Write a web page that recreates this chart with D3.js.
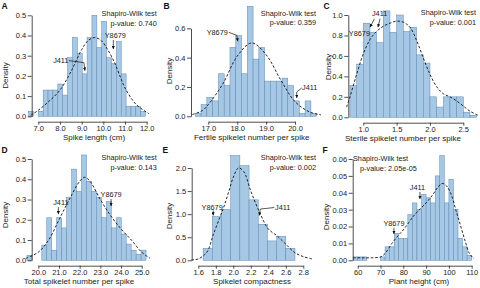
<!DOCTYPE html>
<html>
<head>
<meta charset="utf-8">
<script src="https://cdn.jsdelivr.net/npm/d3@7"></script>
<style>
  body { margin: 0; background: #fff; }
  svg { display: block; font-family: "Liberation Sans", Arial, sans-serif; }
</style>
</head>
<body>
<svg id="fig" width="480" height="288"></svg>
<script>
// ---- values ----
const letters = ["A", "B", "C", "D", "E", "F"];
const xTitles = ["Spike length (cm)", "Fertile spikelet number per spike", "Sterile spikelet number per spike",
                 "Total spikelet number per spike", "Spikelet compactness", "Plant height (cm)"];
const pValues = ["0.740", "0.359", "0.001", "0.143", "0.002", "2.05e-05"];

// histogram bins: first break and bin width, then densities
const binStart = [6.55, 16.55, 0.8, 19.45, 1.655, 58];
const binWidth = [0.225, 0.2, 0.1, 0.24, 0.105, 2];

const densA = [0.025, 0, 0.025, 0.13, 0.13, 0.13, 0.16, 0.105, 0.29, 0.39, 0.31, 0.21,
               0.39, 0.5, 0.34, 0.47, 0.29, 0.26, 0.37, 0.21, 0.05, 0.05, 0.05, 0.025];
const densB = [0.02, 0.08, 0.13, 0.105, 0.29, 0.21, 0.47, 0.55, 0.29, 0.75, 0.39, 0.47,
               0.24, 0.24, 0.24, 0.26, 0.21, 0.105, 0.02, 0.105, 0.02];
const densC = [0.31, 0.52, 0.92, 0.83, 0.73, 1.04, 0.83, 1.0, 0.84, 0.88, 0.61, 0.53,
               0.2, 0.1, 0.2, 0.2, 0.2, 0.05, 0.02];
const densD = [0.025, 0, 0, 0.075, 0.21, 0.05, 0.21, 0.16, 0.31, 0.45, 0.34, 0.52,
               0.39, 0.34, 0.31, 0.21, 0.29, 0.16, 0.21, 0.13, 0.08, 0.05, 0.03, 0.05];
const densE = [0.26, 0.95, 1.1, 2.27, 2.05, 1.31, 0.78, 0.42, 0.52, 0.26];
const densF = [0.002, 0.002, 0.002, 0, 0, 0, 0.002, 0.008, 0.008, 0.016, 0.013, 0.013, 0.027,
               0.034, 0.03, 0.039, 0.037, 0.034, 0.05, 0.062, 0.034, 0.048, 0.03, 0.013, 0.008, 0.003];

// dashed density curves [x, density]
const curveA = [[6.65, 0.005], [7.0, 0.03], [7.5, 0.075], [8.0, 0.13], [8.5, 0.22], [9.0, 0.33],
                [9.3, 0.375], [9.6, 0.39], [9.9, 0.375], [10.2, 0.33], [10.5, 0.27], [10.8, 0.19],
                [11.0, 0.14], [11.5, 0.06], [12.0, 0.02], [12.1, 0.013]];
const curveB = [[16.45, 0.012], [16.8, 0.04], [17.0, 0.08], [17.5, 0.22], [18.0, 0.41], [18.5, 0.5],
                [19.0, 0.42], [19.5, 0.25], [20.0, 0.1], [20.5, 0.03], [20.9, 0.01]];
const curveC = [[0.75, 0.1], [0.8, 0.2], [0.9, 0.42], [1.0, 0.62], [1.1, 0.76], [1.2, 0.84], [1.3, 0.89],
                [1.4, 0.92], [1.5, 0.94], [1.6, 0.93], [1.7, 0.88], [1.8, 0.75], [1.9, 0.58], [2.0, 0.42],
                [2.1, 0.3], [2.2, 0.23], [2.3, 0.2], [2.4, 0.16], [2.5, 0.11], [2.6, 0.06], [2.72, 0.02]];
const curveD = [[19.4, 0.01], [20.0, 0.04], [20.5, 0.1], [21.0, 0.2], [21.5, 0.3], [22.0, 0.39],
                [22.25, 0.41], [22.5, 0.39], [23.0, 0.3], [23.5, 0.22], [24.0, 0.155], [24.5, 0.1],
                [25.0, 0.04], [25.4, 0.01]];
const curveE = [[1.52, 0.01], [1.6, 0.03], [1.7, 0.18], [1.77, 0.55], [1.85, 0.95], [1.9, 1.2],
                [1.95, 1.5], [2.0, 1.8], [2.06, 2.0], [2.12, 1.92], [2.2, 1.5], [2.3, 1.04],
                [2.4, 0.68], [2.5, 0.53], [2.6, 0.35], [2.7, 0.17], [2.8, 0.08], [2.9, 0.03]];
const curveF = [[58, 0.0015], [62, 0.0015], [66, 0.0015], [70, 0.002], [72, 0.004], [75, 0.01],
                [78, 0.015], [80, 0.018], [85, 0.027], [90, 0.034], [93, 0.039], [95, 0.043],
                [97, 0.0455], [99, 0.044], [101, 0.039], [103, 0.03], [105, 0.021], [107, 0.012],
                [109, 0.004], [111, 0.001]];

const xTicksA = [7, 8, 9, 10, 11, 12];
const xTicksB = [17, 18, 19, 20];
const xTicksC = [1.0, 1.5, 2.0, 2.5];
const xTicksD = [20, 21, 22, 23, 24, 25];
const xTicksE = [1.6, 1.8, 2.0, 2.2, 2.4, 2.6, 2.8];
const xTicksF = [60, 70, 80, 90, 100, 110];
const yTicksA = [0, 0.1, 0.2, 0.3, 0.4, 0.5];
const yTicksB = [0, 0.2, 0.4, 0.6];
const yTicksC = [0, 0.2, 0.4, 0.6, 0.8, 1.0];
const yTicksD = [0, 0.1, 0.2, 0.3, 0.4, 0.5];
const yTicksE = [0, 0.5, 1.0, 1.5, 2.0];
const yTicksF = [0, 0.01, 0.02, 0.03, 0.04, 0.05, 0.06];

// ---- layout (pixels) ----
const panels = [
  {dens: densA, curve: curveA, xt: xTicksA, yt: yTicksA, xf: 1, yf: 1,
   x0: 38.3, x1: 146.7, y0: 116.3, y1: 15.3, yAxisX: 31.7, xAxisY: 121.7,
   ytitle: [5.5, 75.5], xtitleX: 94, letter: [1.5, 8.5], sw: {x: 156.7, y: 16, anchor: "end", dx2: 0},
   notes: [{label: "J411", x: 9.15, y: 0.226, tdx: -16.5, tdy: -7.5, anchor: "end", path: [[-16, -10], [-1, -8], [0, 0]]},
           {label: "Y8679", x: 10.46, y: 0.333, tdx: 2, tdy: -11, anchor: "middle", path: [[0, -9], [0, 0]]}]},
  {dens: densB, curve: curveB, xt: xTicksB, yt: yTicksB, xf: 1, yf: 1,
   x0: 208.3, x1: 295, y0: 116.3, y1: 28.3, yAxisX: 191, xAxisY: 121.7,
   ytitle: [169.5, 71], xtitleX: 251.7, letter: [163.5, 8.5], sw: {x: 316, y: 15.5, anchor: "end", dx2: 0},
   notes: [{label: "Y8679", x: 18.02, y: 0.511, tdx: -10, tdy: -6.6, anchor: "end", path: [[-9, -9], [-1, -6], [0, 0]]},
           {label: "J411", x: 20.06, y: 0.125, tdx: 5.3, tdy: -7.5, anchor: "start", path: [[5, -10], [0, -6], [0, 0]]}]},
  {dens: densC, curve: curveC, xt: xTicksC, yt: yTicksC, xf: 1, yf: 1,
   x0: 363.3, x1: 463.3, y0: 117.3, y1: 15, yAxisX: 348.3, xAxisY: 122.7,
   ytitle: [328.5, 67], xtitleX: 403, letter: [323.5, 8.5], sw: {x: 476, y: 15, anchor: "end", dx2: 0},
   notes: [{label: "J411", x: 1.22, y: 0.88, tdx: -6, tdy: -10.8, anchor: "start", path: [[2, -8.5], [0, 0]]},
           {label: "", x: 1.1, y: 0.88, path: [[4.5, -8.5], [0, 0]]},
           {label: "Y8679", x: 1.1, y: 0.88, tdx: 0, tdy: 9.2, anchor: "end", path: []}]},
  {dens: densD, curve: curveD, xt: xTicksD, yt: yTicksD, xf: 1, yf: 1,
   x0: 38.3, x1: 141.7, y0: 260.3, y1: 159, yAxisX: 31.7, xAxisY: 265.7,
   ytitle: [5.5, 215], xtitleX: 79, letter: [1.5, 152.5], sw: {x: 156.7, y: 160, anchor: "end", dx2: 0},
   notes: [{label: "J411", x: 20.97, y: 0.228, tdx: 2.5, tdy: -9, anchor: "middle", path: [[0, -7], [0, 0]]},
           {label: "Y8679", x: 23.52, y: 0.268, tdx: 0, tdy: -9, anchor: "middle", path: [[0, -7], [0, 0]]}]},
  {dens: densE, curve: curveE, xt: xTicksE, yt: yTicksE, xf: 1, yf: 1,
   x0: 198.3, x1: 303.3, y0: 260.3, y1: 168, yAxisX: 191.7, xAxisY: 265.7,
   ytitle: [169.5, 216], xtitleX: 252, letter: [162.5, 152.5], sw: {x: 316, y: 160, anchor: "end", dx2: 0},
   notes: [{label: "Y8679", x: 1.77, y: 0.97, tdx: -1, tdy: -6, anchor: "middle", path: [[0, -5], [0, 0]]},
           {label: "J411", x: 2.297, y: 0.97, tdx: 15.7, tdy: -5.7, anchor: "start", path: [[15, -8], [1, -6.5], [0, 0]]}]},
  {dens: densF, curve: curveF, xt: xTicksF, yt: yTicksF, xf: 0, yf: 2,
   x0: 357.7, x1: 471.7, y0: 260.3, y1: 159, yAxisX: 352.7, xAxisY: 265.7,
   ytitle: [326, 217], xtitleX: 419, letter: [322.5, 152.5], sw: {x: 353, y: 161, anchor: "start", dx2: 7},
   notes: [{label: "J411", x: 87.3, y: 0.0363, tdx: -2.5, tdy: -9.5, anchor: "middle", path: [[0, -7], [0, 0]]},
           {label: "Y8679", x: 75.9, y: 0.0156, tdx: 0, tdy: -8, anchor: "middle", path: [[0, -6], [0, 0]]}]}
];

const svg = d3.select("#fig");

svg.append("defs").append("marker")
    .attr("id", "arr")
    .attr("viewBox", "0 0 10 10")
    .attr("refX", 10).attr("refY", 5)
    .attr("markerUnits", "userSpaceOnUse")
    .attr("markerWidth", 3.2).attr("markerHeight", 3.2)
    .attr("orient", "auto")
  .append("path")
    .attr("d", "M0,0L10,5L0,10z")
    .attr("fill", "#111");

panels.forEach((p, i) => {
    const g = svg.append("g");
    const xs = d3.scaleLinear().domain([p.xt[0], p.xt[p.xt.length - 1]]).range([p.x0, p.x1]);
    const ys = d3.scaleLinear().domain([0, p.yt[p.yt.length - 1]]).range([p.y0, p.y1]);

    // bars
    const bins = p.dens.map((d, k) => ({lo: binStart[i] + k * binWidth[i], hi: binStart[i] + (k + 1) * binWidth[i], d: d}));
    g.selectAll("rect.bar").data(bins.filter(b => b.d > 0)).enter()
        .append("rect")
        .attr("class", "bar")
        .attr("x", b => xs(b.lo))
        .attr("width", b => xs(b.hi) - xs(b.lo))
        .attr("y", b => ys(b.d))
        .attr("height", b => ys(0) - ys(b.d))
        .attr("fill", "#a6c8e5")
        .attr("stroke", "#5d88b3")
        .attr("stroke-width", 0.5);

    // density curve
    g.append("path")
        .datum(p.curve)
        .attr("d", d3.line().x(d => xs(d[0])).y(d => ys(d[1])).curve(d3.curveCatmullRom))
        .attr("fill", "none")
        .attr("stroke", "#111")
        .attr("stroke-width", 0.9)
        .attr("stroke-dasharray", "2.6,1.8");

    // axes, R style: detached, spanning first..last tick
    const xa = g.append("g").attr("transform", `translate(0,${p.xAxisY})`)
        .call(d3.axisBottom(xs).tickValues(p.xt).tickSize(3).tickPadding(1)
              .tickFormat(d => d.toFixed(p.xf === 0 ? 0 : 1)).tickSizeOuter(0));
    const ya = g.append("g").attr("transform", `translate(${p.yAxisX},0)`)
        .call(d3.axisLeft(ys).tickValues(p.yt).tickSize(4).tickPadding(1.5)
              .tickFormat(d => d.toFixed(p.yf)).tickSizeOuter(0));
    [xa, ya].forEach(a => {
        a.select(".domain").attr("stroke", "#222").attr("stroke-width", 0.8);
        a.selectAll(".tick line").attr("stroke", "#222").attr("stroke-width", 0.8);
        a.selectAll("text").attr("font-size", 7.5).attr("fill", "#222").attr("font-family", "Liberation Sans, Arial, sans-serif");
    });

    // titles
    g.append("text")
        .attr("x", p.xtitleX).attr("y", p.xAxisY + 18.5)
        .attr("text-anchor", "middle").attr("font-size", 8).attr("fill", "#222")
        .text(xTitles[i]);
    g.append("text")
        .attr("transform", `translate(${p.ytitle[0]},${p.ytitle[1]}) rotate(-90)`)
        .attr("text-anchor", "middle").attr("dominant-baseline", "central")
        .attr("font-size", 8).attr("fill", "#222")
        .text("Density");
    g.append("text")
        .attr("x", p.letter[0]).attr("y", p.letter[1])
        .attr("font-size", 8.5).attr("font-weight", "bold").attr("fill", "#111")
        .text(letters[i]);

    // Shapiro-Wilk note
    g.append("text")
        .attr("x", p.sw.x).attr("y", p.sw.y)
        .attr("text-anchor", p.sw.anchor).attr("font-size", 7.3).attr("fill", "#222")
        .text("Shapiro-Wilk test");
    g.append("text")
        .attr("x", p.sw.x + p.sw.dx2).attr("y", p.sw.y + 9.5)
        .attr("text-anchor", p.sw.anchor).attr("font-size", 7.3).attr("fill", "#222")
        .text("p-value: " + pValues[i]);

    // cultivar arrows
    p.notes.forEach(n => {
        const tx = xs(n.x), ty = ys(n.y);
        if (n.path.length) {
            g.append("path")
                .attr("d", d3.line()(n.path.map(q => [tx + q[0], ty + q[1]])))
                .attr("fill", "none").attr("stroke", "#111").attr("stroke-width", 0.7)
                .attr("marker-end", "url(#arr)");
        }
        if (n.label) {
            g.append("text")
                .attr("x", tx + n.tdx).attr("y", ty + n.tdy)
                .attr("text-anchor", n.anchor).attr("font-size", 7.3).attr("fill", "#222")
                .text(n.label);
        }
    });
});
</script>
</body>
</html>
